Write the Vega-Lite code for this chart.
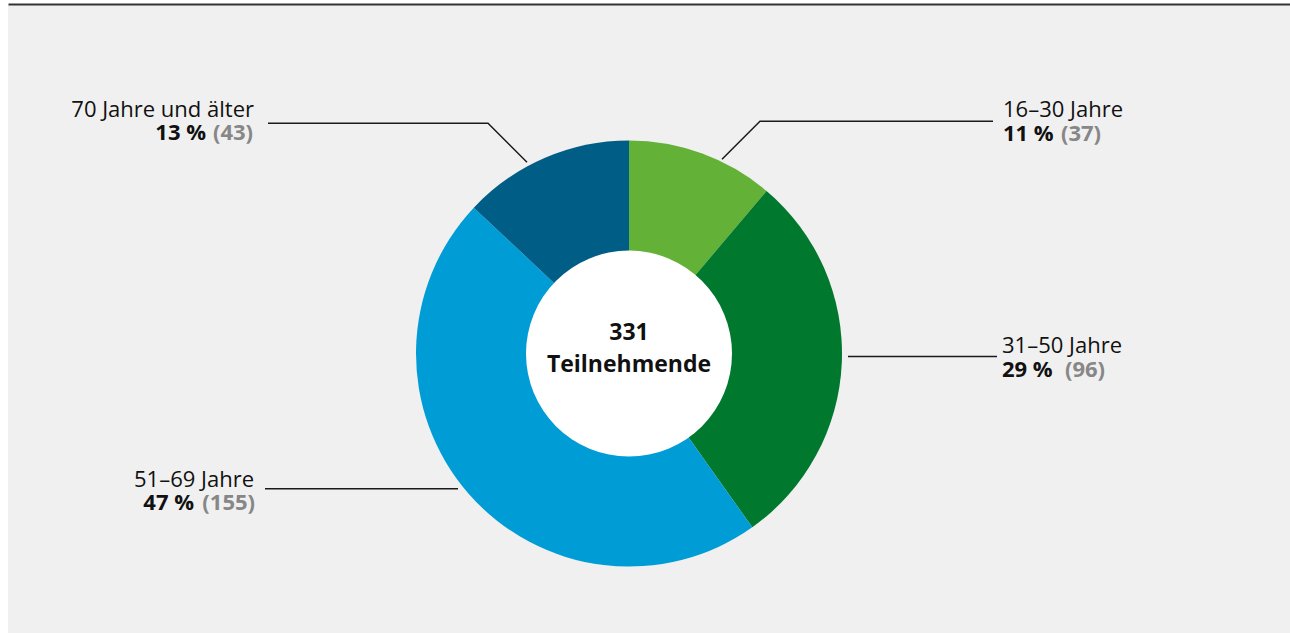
{
  "$schema": "https://vega.github.io/schema/vega-lite/v6.json",
  "width": 1290,
  "height": 633,
  "autosize": {"type": "fit", "contains": "padding"},
  "padding": {"left": 8, "top": 4, "right": 0, "bottom": 0},
  "background": "white",
  "config": {"view": {"stroke": null, "fill": "#f0f0f0"}, "text": {"font": "Open Sans"}},
  "datasets": {
    "groups": [
      {"group": "16–30 Jahre", "n": 37},
      {"group": "31–50 Jahre", "n": 96},
      {"group": "51–69 Jahre", "n": 155},
      {"group": "70 Jahre und älter", "n": 43}
    ],
    "leaders": [
      {"id": "a", "k": 1, "x": -361, "y": -230},
      {"id": "a", "k": 2, "x": -141, "y": -230},
      {"id": "a", "k": 3, "x": -102, "y": -191},
      {"id": "b", "k": 1, "x": 93, "y": -194},
      {"id": "b", "k": 2, "x": 131, "y": -232},
      {"id": "b", "k": 3, "x": 364, "y": -232},
      {"id": "c", "k": 1, "x": 219, "y": 3},
      {"id": "c", "k": 2, "x": 368, "y": 3},
      {"id": "d", "k": 1, "x": -364, "y": 135},
      {"id": "d", "k": 2, "x": -171, "y": 135}
    ],
    "texts": [
      {"t": "70 Jahre und älter", "kind": "name", "side": "L", "x": -375, "y": -236},
      {"t": "13 %", "kind": "pct", "side": "L", "x": -423, "y": -213},
      {"t": "(43)", "kind": "cnt", "side": "L", "x": -376, "y": -213},
      {"t": "51–69 Jahre", "kind": "name", "side": "L", "x": -375, "y": 133},
      {"t": "47 %", "kind": "pct", "side": "L", "x": -435, "y": 156},
      {"t": "(155)", "kind": "cnt", "side": "L", "x": -374, "y": 156},
      {"t": "16–30 Jahre", "kind": "name", "side": "R", "x": 374, "y": -236},
      {"t": "11 %", "kind": "pct", "side": "R", "x": 374, "y": -212},
      {"t": "(37)", "kind": "cnt", "side": "R", "x": 432, "y": -212},
      {"t": "31–50 Jahre", "kind": "name", "side": "R", "x": 373, "y": -1},
      {"t": "29 %", "kind": "pct", "side": "R", "x": 373, "y": 23},
      {"t": "(96)", "kind": "cnt", "side": "R", "x": 436, "y": 23},
      {"t": "331", "kind": "center", "side": "C", "x": 0, "y": -14},
      {"t": "Teilnehmende", "kind": "center", "side": "C", "x": 0, "y": 18}
    ]
  },
  "layer": [
    {
      "data": {"name": "leaders"},
      "mark": {"type": "line", "stroke": "#1a1a1a", "strokeWidth": 1.5},
      "encoding": {
        "x": {"field": "x", "type": "quantitative", "title": null,
              "scale": {"domain": [-621, 661], "nice": false, "zero": false},
              "axis": {"orient": "top", "domain": true, "domainColor": "#333333", "domainWidth": 2, "ticks": false, "labels": false, "grid": false, "title": null, "offset": 1}},
        "y": {"field": "y", "type": "quantitative", "title": null,
              "scale": {"domain": [-348, 279], "nice": false, "zero": false, "reverse": true},
              "axis": null},
        "detail": {"field": "id"},
        "order": {"field": "k"}
      }
    },
    {
      "data": {"name": "groups"},
      "mark": {"type": "arc", "outerRadius": 213, "innerRadius": 0},
      "encoding": {
        "theta": {"field": "n", "type": "quantitative", "stack": true},
        "color": {"field": "group", "type": "nominal", "sort": null, "legend": null,
                  "scale": {"domain": ["16–30 Jahre", "31–50 Jahre", "51–69 Jahre", "70 Jahre und älter"],
                            "range": ["#63b136", "#00782d", "#009cd6", "#005e86"]}},
        "x": {"datum": 0, "type": "quantitative", "title": null},
        "y": {"datum": 0, "type": "quantitative", "title": null}
      }
    },
    {
      "data": {"values": [{}]},
      "mark": {"type": "arc", "outerRadius": 103, "innerRadius": 0, "theta": 0, "theta2": 6.2832, "fill": "white"},
      "encoding": {
        "x": {"datum": 0, "type": "quantitative", "title": null},
        "y": {"datum": 0, "type": "quantitative", "title": null}
      }
    },
    {
      "data": {"name": "texts"},
      "transform": [{"filter": "datum.kind === 'name' && datum.side === 'L'"}],
      "mark": {"type": "text", "align": "right", "baseline": "alphabetic", "fontSize": 22, "color": "#111111"},
      "encoding": {
        "x": {"field": "x", "type": "quantitative", "title": null},
        "y": {"field": "y", "type": "quantitative", "title": null},
        "text": {"field": "t"}
      }
    },
    {
      "data": {"name": "texts"},
      "transform": [{"filter": "datum.kind === 'name' && datum.side === 'R'"}],
      "mark": {"type": "text", "align": "left", "baseline": "alphabetic", "fontSize": 22, "color": "#111111"},
      "encoding": {
        "x": {"field": "x", "type": "quantitative", "title": null},
        "y": {"field": "y", "type": "quantitative", "title": null},
        "text": {"field": "t"}
      }
    },
    {
      "data": {"name": "texts"},
      "transform": [{"filter": "(datum.kind === 'pct' || datum.kind === 'cnt') && datum.side === 'L'"}],
      "mark": {"type": "text", "align": "right", "baseline": "alphabetic", "fontSize": 22, "fontWeight": "bold"},
      "encoding": {
        "x": {"field": "x", "type": "quantitative", "title": null},
        "y": {"field": "y", "type": "quantitative", "title": null},
        "text": {"field": "t"},
        "color": {"condition": {"test": "datum.kind === 'cnt'", "value": "#878787"}, "value": "#111111"}
      }
    },
    {
      "data": {"name": "texts"},
      "transform": [{"filter": "(datum.kind === 'pct' || datum.kind === 'cnt') && datum.side === 'R'"}],
      "mark": {"type": "text", "align": "left", "baseline": "alphabetic", "fontSize": 22, "fontWeight": "bold"},
      "encoding": {
        "x": {"field": "x", "type": "quantitative", "title": null},
        "y": {"field": "y", "type": "quantitative", "title": null},
        "text": {"field": "t"},
        "color": {"condition": {"test": "datum.kind === 'cnt'", "value": "#878787"}, "value": "#111111"}
      }
    },
    {
      "data": {"name": "texts"},
      "transform": [{"filter": "datum.kind === 'center'"}],
      "mark": {"type": "text", "align": "center", "baseline": "alphabetic", "fontSize": 23, "fontWeight": "bold", "color": "#111111"},
      "encoding": {
        "x": {"field": "x", "type": "quantitative", "title": null},
        "y": {"field": "y", "type": "quantitative", "title": null},
        "text": {"field": "t"}
      }
    }
  ]
}
